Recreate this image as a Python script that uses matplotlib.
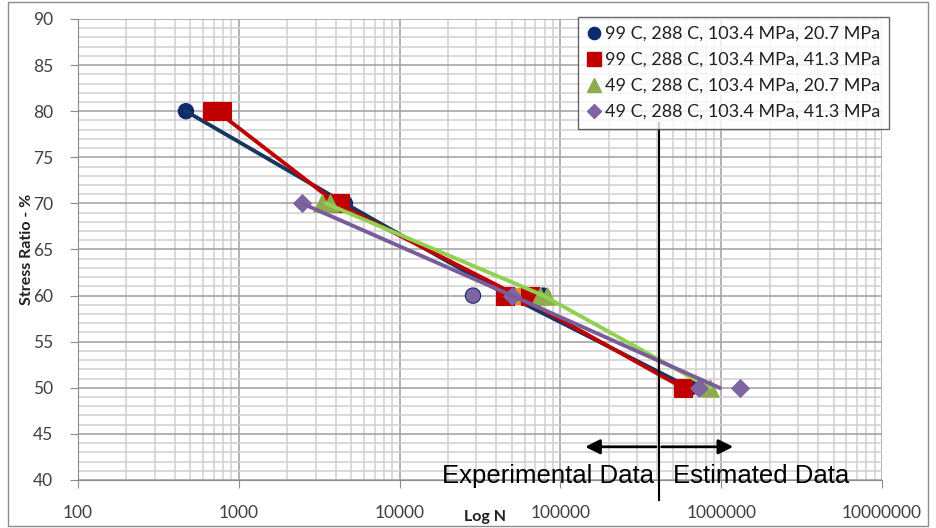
import numpy as np
import matplotlib
matplotlib.use('Agg')
import matplotlib.pyplot as plt
from matplotlib.ticker import LogLocator, MultipleLocator, NullFormatter
from matplotlib.patches import Rectangle

plt.rcParams['font.family'] = ['Lato', 'DejaVu Sans']

# cycles to failure (N) and stress ratio (%) for each test series
navy_n = [469, 4570, 28600, 78000, 640000]
navy_s = [80, 70, 60, 60, 50]
navy_face = ['#0d2a6e', '#0d2a6e', '#8064a2', '#0d2a6e', '#0d2a6e']

red_n = [681, 787, 3850, 4260, 45200, 64700, 578000]
red_s = [80, 80, 70, 70, 60, 60, 50]

green_n = [3290, 3690, 74600, 82600, 851000]
green_s = [70, 70, 60, 60, 50]

purple_n = [2470, 50000, 728000, 1310000]
purple_s = [70, 60, 50, 50]

orange_n = [54500]
orange_s = [60]

labels = ['99 C, 288 C, 103.4 MPa, 20.7 MPa',
          '99 C, 288 C, 103.4 MPa, 41.3 MPa',
          '49 C, 288 C, 103.4 MPa, 20.7 MPa',
          '49 C, 288 C, 103.4 MPa, 41.3 MPa']

split_n = 409000          # boundary between experimental and estimated data
arrow_n = [137000, 1236000]


def mean_line(n, s):
    # geometric mean of N at each stress level
    n = np.array(n, dtype=float)
    s = np.array(s)
    lev = sorted(set(s), reverse=True)
    return [10 ** np.log10(n[s == v]).mean() for v in lev], lev


W, H = 936, 528
fig = plt.figure(figsize=(W / 100, H / 100), dpi=100)
ax = fig.add_axes([78 / W, 48 / H, (882 - 78) / W, (480 - 19) / H])

ax.set_xscale('log')
ax.set_xlim(100, 1e7)
ax.set_ylim(40, 90)
ax.xaxis.set_major_locator(LogLocator(base=10, numticks=10))
ax.xaxis.set_minor_locator(LogLocator(base=10, subs=np.arange(2, 10), numticks=50))
ax.xaxis.set_minor_formatter(NullFormatter())
ax.xaxis.set_major_formatter(plt.FuncFormatter(lambda v, p: '%d' % round(v)))
ax.yaxis.set_major_locator(MultipleLocator(5))
ax.yaxis.set_minor_locator(MultipleLocator(1))

ax.grid(which='major', color='#a6a6a6', lw=1.2, zorder=0)
ax.grid(which='minor', color='#d0d0d0', lw=1.1, zorder=0)
ax.set_axisbelow(True)
for sp in ['top', 'right']:
    ax.spines[sp].set_visible(False)
for sp in ['left', 'bottom']:
    ax.spines[sp].set_color('#8c8c8c')
ax.tick_params(which='major', length=6, color='#8c8c8c', labelsize=12.5,
               labelcolor='#404040')
ax.tick_params(axis='y', pad=12)
ax.tick_params(axis='x', pad=12)
ax.tick_params(which='minor', length=0)

series = [
    (navy_n, navy_s, '#17375e', 'o', 11),
    (red_n, red_s, '#c00000', 's', 13),
    (green_n, green_s, '#92d050', '^', 12.5),
    (purple_n, purple_s, '#7a5c9c', 'D', 9),
]
mcolors = ['#0d2a6e', '#c00000', '#8cac4f', '#8064a2']
handles = []
for i, (n, s, lc, mk, ms) in enumerate(series):
    face = navy_face if i == 0 else mcolors[i]
    edge = '#0d2a6e' if i == 0 else mcolors[i]
    ax.scatter(n, s, marker=mk, s=ms ** 2, c=face, edgecolors=edge,
               linewidths=0.8, zorder=3 + 2 * i)
    ln, ls = mean_line(n, s)
    ax.plot(ln, ls, color=lc, lw=2.8, zorder=4 + 2 * i)
    handles.append(plt.Line2D([], [], ls='none', marker=mk, ms=ms * 0.8,
                              color=mcolors[i]))
ax.scatter(orange_n, orange_s, marker='s', s=12 ** 2, c='#e4883c', zorder=4)

# experimental / estimated divider
ax.plot([split_n, split_n], [78.7, 37.8], color='black', lw=1.5,
        clip_on=False, zorder=20)
for end in arrow_n:
    ax.annotate('', xy=(end, 43.6), xytext=(split_n, 43.6),
                arrowprops=dict(arrowstyle='-|>', color='black', lw=2,
                                mutation_scale=22), zorder=20)
ax.text(18400, 40.4, 'Experimental Data', fontsize=18.5, va='center', ha='left',
        family='Liberation Sans', clip_on=False, zorder=20)
ax.text(501000, 40.4, 'Estimated Data', fontsize=18.5, va='center', ha='left',
        family='Liberation Sans', clip_on=False, zorder=20)

leg = ax.legend(handles, labels, loc='upper right',
                bbox_to_anchor=(889 / W, 1 - 17 / H), bbox_transform=fig.transFigure,
                fontsize=13, frameon=True, fancybox=False, borderaxespad=0,
                handlelength=0.8, handletextpad=0.2, labelspacing=0.55,
                borderpad=0.5)
leg.get_frame().set_edgecolor('#404040')
leg.get_frame().set_linewidth(1.0)
for t in leg.get_texts():
    t.set_color('#202020')
leg.set_zorder(30)

fig.text(27 / W, 1 - 249 / H, 'Stress Ratio - %', rotation=90, fontsize=11.5,
         fontweight='bold', ha='center', va='center', color='#202020')
fig.text(485 / W, 1 - 517 / H, 'Log N', fontsize=11.5, fontweight='bold',
         ha='center', va='center', color='#202020')

fig.patches.append(Rectangle((8 / W, 2 / H), 920 / W, 524 / H,
                             transform=fig.transFigure, fill=False,
                             edgecolor='#8c8c8c', lw=1))

fig.savefig('out.png', dpi=100)
